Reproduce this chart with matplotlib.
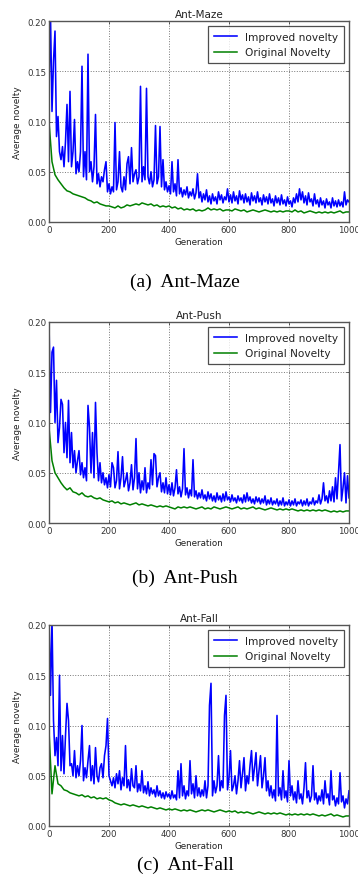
import numpy as np
import matplotlib
matplotlib.use("Agg")
import matplotlib.pyplot as plt
from matplotlib.ticker import FormatStrFormatter

# generations (blue sampled every 5, green every 10)
gen_blue = np.arange(0, 1001, 5)
gen_green = np.arange(0, 1001, 10)

# values in units of 0.001
maze_improved = [
    130, 205, 110, 160, 190, 85, 105, 70, 62, 75, 55, 80, 117, 60, 130, 55, 70, 102, 48, 60,
    50, 70, 155, 45, 70, 42, 167, 50, 60, 40, 55, 107, 38, 48, 35, 45, 40, 52, 60, 30,
    38, 28, 35, 30, 99, 32, 40, 70, 35, 30, 45, 32, 58, 65, 38, 74, 40, 48, 52, 38,
    45, 135, 40, 55, 42, 133, 45, 38, 50, 35, 42, 96, 38, 45, 95, 35, 62, 32, 40, 30,
    36, 28, 60, 30, 38, 26, 62, 28, 34, 25, 32, 27, 35, 24, 30, 26, 33, 23, 29, 48,
    24, 30, 20, 28, 22, 32, 20, 26, 18, 28, 21, 25, 18, 30, 22, 27, 19, 25, 22, 33,
    20, 27, 19, 30, 21, 26, 18, 31, 22, 27, 19, 28, 20, 25, 17, 29, 21, 26, 19, 30,
    20, 24, 17, 27, 20, 25, 18, 28, 19, 23, 16, 26, 19, 24, 17, 27, 18, 22, 16, 25,
    18, 21, 15, 24, 19, 28, 20, 33, 22, 30, 19, 26, 17, 29, 20, 23, 16, 28, 18, 22,
    15, 24, 17, 21, 14, 23, 17, 20, 14, 24, 16, 21, 15, 22, 16, 20, 15, 30, 17, 22,
    20,
]
maze_original = [
    100, 60, 47, 42, 38, 34, 31, 30, 28, 27, 26, 25, 24, 22, 21, 19, 20, 18, 17, 16,
    16, 15, 14, 16, 14, 15, 17, 16, 17, 18, 17, 19, 18, 17, 18, 16, 17, 15, 16, 15,
    16, 14, 15, 13, 14, 12, 13, 12, 13, 11, 12, 11, 12, 14, 12, 13, 12, 13, 11, 12,
    12, 11, 13, 12, 11, 12, 10, 11, 12, 11, 10, 11, 12, 11, 10, 11, 10, 11, 10, 11,
    11, 10, 12, 10, 11, 9, 10, 11, 10, 9, 10, 9, 10, 9, 10, 9, 10, 11, 9, 10,
    10,
]

push_improved = [
    200, 110, 170, 175, 100, 142, 80, 95, 123, 118, 70, 100, 65, 122, 60, 90, 55, 72, 50, 62,
    72, 48, 60, 45, 55, 42, 117, 95, 50, 90, 45, 120, 70, 42, 60, 40, 50, 38, 45, 35,
    48, 36, 60, 55, 35, 42, 71, 34, 45, 66, 36, 42, 50, 32, 40, 58, 33, 45, 84, 34,
    50, 30, 42, 33, 55, 30, 40, 34, 63, 38, 69, 67, 36, 45, 50, 31, 40, 30, 45, 29,
    38, 28, 40, 27, 35, 53, 29, 36, 26, 34, 74, 28, 35, 25, 33, 27, 63, 26, 32, 24,
    30, 25, 33, 24, 28, 22, 31, 24, 29, 22, 27, 21, 30, 23, 27, 21, 29, 22, 31, 23,
    26, 21, 28, 22, 25, 20, 27, 22, 25, 20, 28, 21, 30, 22, 26, 20, 24, 19, 26, 21,
    25, 19, 24, 20, 27, 18, 23, 19, 25, 18, 22, 19, 24, 17, 22, 18, 25, 17, 21, 18,
    23, 17, 22, 18, 24, 17, 21, 19, 23, 17, 22, 18, 24, 17, 21, 19, 25, 18, 22, 20,
    28, 19, 24, 40, 22, 27, 20, 32, 22, 36, 21, 45, 24, 50, 78, 22, 35, 50, 20, 47,
    25,
]
push_original = [
    95, 62, 50, 45, 40, 36, 33, 35, 31, 30, 28, 30, 27, 26, 27, 25, 24, 25, 23, 22,
    21, 22, 20, 21, 19, 20, 19, 18, 19, 20, 18, 19, 18, 17, 18, 17, 16, 17, 16, 17,
    16, 15, 14, 16, 15, 16, 15, 16, 15, 14, 15, 16, 14, 15, 14, 16, 15, 14, 15, 16,
    15, 14, 15, 16, 14, 15, 14, 15, 16, 14, 15, 14, 13, 14, 15, 14, 13, 14, 13, 14,
    13, 14, 13, 12, 13, 12, 13, 12, 13, 12, 13, 12, 13, 12, 11, 12, 11, 12, 11, 12,
    12,
]

fall_improved = [
    210, 130, 205, 105, 70, 88, 60, 150, 55, 90, 52, 90, 122, 105, 60, 62, 50, 75, 48, 60,
    50, 65, 100, 45, 58, 48, 65, 80, 45, 60, 42, 78, 50, 44, 58, 62, 48, 70, 80, 107,
    50, 45, 40, 48, 38, 52, 42, 55, 36, 48, 40, 80, 38, 46, 35, 57, 40, 38, 60, 34,
    42, 35, 55, 33, 40, 32, 44, 30, 38, 32, 36, 29, 40, 30, 35, 28, 33, 27, 34, 29,
    32, 27, 35, 28, 31, 26, 55, 28, 62, 30, 40, 27, 35, 30, 65, 32, 42, 28, 50, 30,
    38, 29, 36, 30, 45, 28, 40, 120, 142, 30, 45, 33, 40, 70, 35, 45, 38, 110, 130, 36,
    48, 75, 35, 40, 50, 32, 45, 65, 38, 52, 68, 35, 50, 42, 60, 75, 45, 58, 73, 40,
    55, 70, 38, 50, 68, 35, 45, 30, 40, 28, 36, 25, 110, 30, 38, 26, 55, 28, 35, 24,
    65, 30, 40, 26, 34, 23, 45, 27, 32, 22, 38, 63, 28, 35, 24, 30, 60, 26, 33, 22,
    30, 25, 36, 22, 45, 28, 32, 21, 55, 26, 30, 20, 28, 22, 53, 24, 30, 18, 27, 22,
    35,
]
fall_original = [
    95, 32, 60, 42, 40, 36, 35, 33, 32, 31, 30, 31, 29, 30, 28, 29, 27, 28, 27, 28,
    26, 25, 23, 22, 21, 22, 21, 20, 21, 20, 19, 20, 19, 18, 19, 18, 17, 18, 17, 16,
    17, 16, 17, 16, 15, 16, 15, 16, 15, 14, 15, 16, 15, 16, 15, 14, 15, 16, 15, 14,
    15, 14, 15, 13, 14, 13, 14, 13, 12, 13, 14, 13, 12, 13, 12, 13, 12, 13, 12, 11,
    12, 11, 12, 11, 12, 11, 12, 11, 12, 11, 10, 11, 10, 11, 12, 10, 11, 10, 9, 10,
    10,
]

titles = ["Ant-Maze", "Ant-Push", "Ant-Fall"]
captions = ["(a)  Ant-Maze", "(b)  Ant-Push", "(c)  Ant-Fall"]
improved = [maze_improved, push_improved, fall_improved]
original = [maze_original, push_original, fall_original]

fig = plt.figure(figsize=(3.58, 8.95), dpi=100)
fig.patch.set_facecolor("white")

tops = [22, 323, 626]        # axes top edges in pixels
cap_y = [282, 578, 865]      # caption centres in pixels
W, H = 358.0, 895.0
ax_h = 201

for k in range(3):
    ax = fig.add_axes([49 / W, 1 - (tops[k] + ax_h) / H, 300 / W, ax_h / H])
    ax.plot(gen_blue, np.array(improved[k]) / 1000.0, color="#0000ff", lw=1.15,
            label="Improved novelty")
    ax.plot(gen_green, np.array(original[k]) / 1000.0, color="#008000", lw=1.1,
            label="Original Novelty")
    ax.set_xlim(0, 1000)
    ax.set_ylim(0, 0.2)
    ax.set_xticks(range(0, 1001, 200))
    ax.set_yticks([0, 0.05, 0.1, 0.15, 0.2])
    ax.yaxis.set_major_formatter(FormatStrFormatter("%.2f"))
    ax.grid(True, color="#777777", linestyle=":", linewidth=0.7)
    ax.tick_params(labelsize=6.2, direction="in", top=True, right=True,
                   length=2, width=0.5, colors="#333333", pad=2)
    for s in ax.spines.values():
        s.set_color("#555555")
        s.set_linewidth(1.0)
    ax.set_title(titles[k], fontsize=7.5, color="#222222", pad=3)
    ax.set_xlabel("Generation", fontsize=6.3, color="#222222", labelpad=2)
    ax.set_ylabel("Average novelty", fontsize=6.4, color="#222222", labelpad=4)
    leg = ax.legend(loc="upper right", fontsize=7.6, fancybox=False,
                    handlelength=2.2, borderaxespad=0.5, labelspacing=0.55,
                    borderpad=0.5)
    leg.get_frame().set_edgecolor("#222222")
    leg.get_frame().set_linewidth(0.9)
    for t in leg.get_texts():
        t.set_color("#222222")
    fig.text(185 / W, 1 - cap_y[k] / H, captions[k], ha="center", va="center",
             fontsize=14, family="Liberation Serif", color="black")

fig.savefig("out.png", dpi=100, facecolor="white")
